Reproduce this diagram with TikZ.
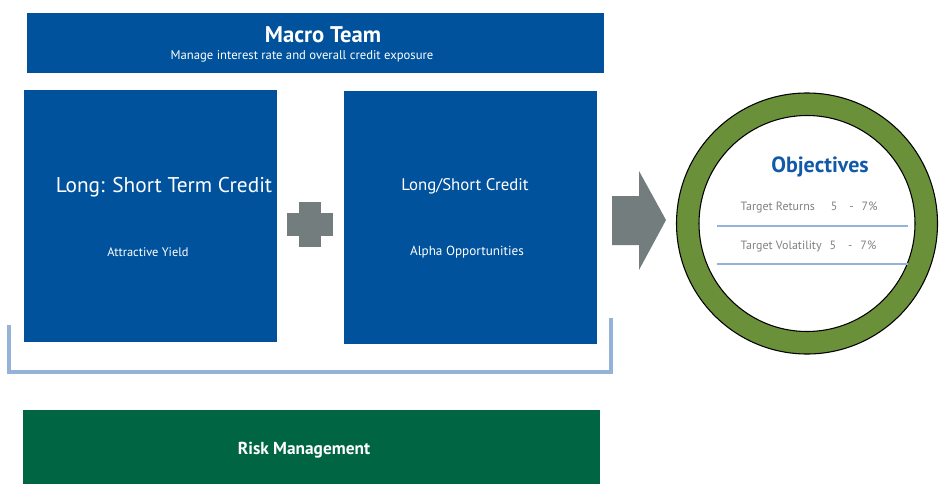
\documentclass[tikz,border=0pt]{standalone}
\usepackage{fontspec}
\setmainfont{PT Sans}
\usepackage{tikz}
\usetikzlibrary{positioning}

\definecolor{bluscuro}{HTML}{00529C}
\definecolor{verdescuro}{HTML}{006543}
\definecolor{verdeoliva}{HTML}{6A9139}
\definecolor{grigio}{HTML}{737D7D}
\definecolor{azzurro}{HTML}{95B3D7}
\definecolor{bluobj}{HTML}{1259A8}
\definecolor{grigiotesto}{HTML}{808080}

\newdimen\px
\px=0.75pt

\tikzset{
  box/.style={fill=bluscuro, inner sep=0pt, anchor=north west},
  titolo/.style={text=white, font=\fontsize{#1}{#1}\selectfont},
  riga/.style={draw=azzurro, line width=1.7pt}
}

\begin{document}
\begin{tikzpicture}[x=0.75pt, y=-0.75pt]
\useasboundingbox (0,0) rectangle (941,485);
% macro team, banda in alto
\node[box, minimum width=577\px, minimum height=60\px] (macro) at (27,13) {};
\node[titolo=17, font=\bfseries\fontsize{17}{17}\selectfont] (macrot) at (323,35) {Macro Team};
\node[titolo=9.5] (macros) at (302,56) {Manage interest rate and overall credit exposure};
% riquadro sinistro
\node[box, minimum width=253\px, minimum height=252\px] (sinistro) at (24,90) {};
\node[titolo=16] (sint) at (164,187) {Long: Short Term Credit};
\node[titolo=9.3] (sins) at (148,252) {Attractive Yield};
% riquadro destro
\node[box, minimum width=253\px, minimum height=253\px] (destro) at (344,91) {};
\node[titolo=12.6] (dest) at (465,186) {Long/Short Credit};
\node[titolo=9.9] (dess) at (467,252) {Alpha Opportunities};
% segno piu
\fill[grigio] (299,202) rectangle (321,247);
\fill[grigio] (287,213) rectangle (333,236);
% parentesi sotto i riquadri
\coordinate (pa) at (9,325);
\coordinate (pb) at (9,372);
\coordinate (pc) at (611,372);
\coordinate (pd) at (611,318);
\draw[azzurro, line width=2.4pt] (pa) -- (pb) -- (pc) -- (pd);
% freccia verso gli obiettivi
\fill[grigio] (612,196) -- (639,196) -- (639,171) -- (666,220) -- (639,270) -- (639,245) -- (612,245) -- cycle;
% anello degli obiettivi
\coordinate (obj) at (807,223.5);
\draw[black, line width=0.8pt, fill=verdeoliva, even odd rule] (obj) circle[radius=130.5] circle[radius=108];
\node[text=bluobj, font=\bfseries\fontsize{16.5}{16.5}\selectfont] (objt) at (820,167) {Objectives};
\node[text=grigiotesto, font=\fontsize{9}{9}\selectfont, anchor=west] (ret) at (736,207)
  {Target Returns\hspace{12pt}5\hspace{9pt}-\hspace{6pt}7\%};
\coordinate (r1a) at (717,226);
\coordinate (r1b) at (908,226);
\draw[riga] (r1a) -- (r1b);
\node[text=grigiotesto, font=\fontsize{9}{9}\selectfont, anchor=west] (vol) at (736,246)
  {Target Volatility\hspace{6pt}5\hspace{9pt}-\hspace{6pt}7\%};
\coordinate (r2a) at (717,264);
\coordinate (r2b) at (908,264);
\draw[riga] (r2a) -- (r2b);
% risk management, banda in basso
\node[box, fill=verdescuro, minimum width=577\px, minimum height=74\px] (rischio) at (23,410) {};
\node[titolo=13, font=\bfseries\fontsize{13}{13}\selectfont] (rischiot) at (304,450) {Risk Management};
\end{tikzpicture}
\end{document}
